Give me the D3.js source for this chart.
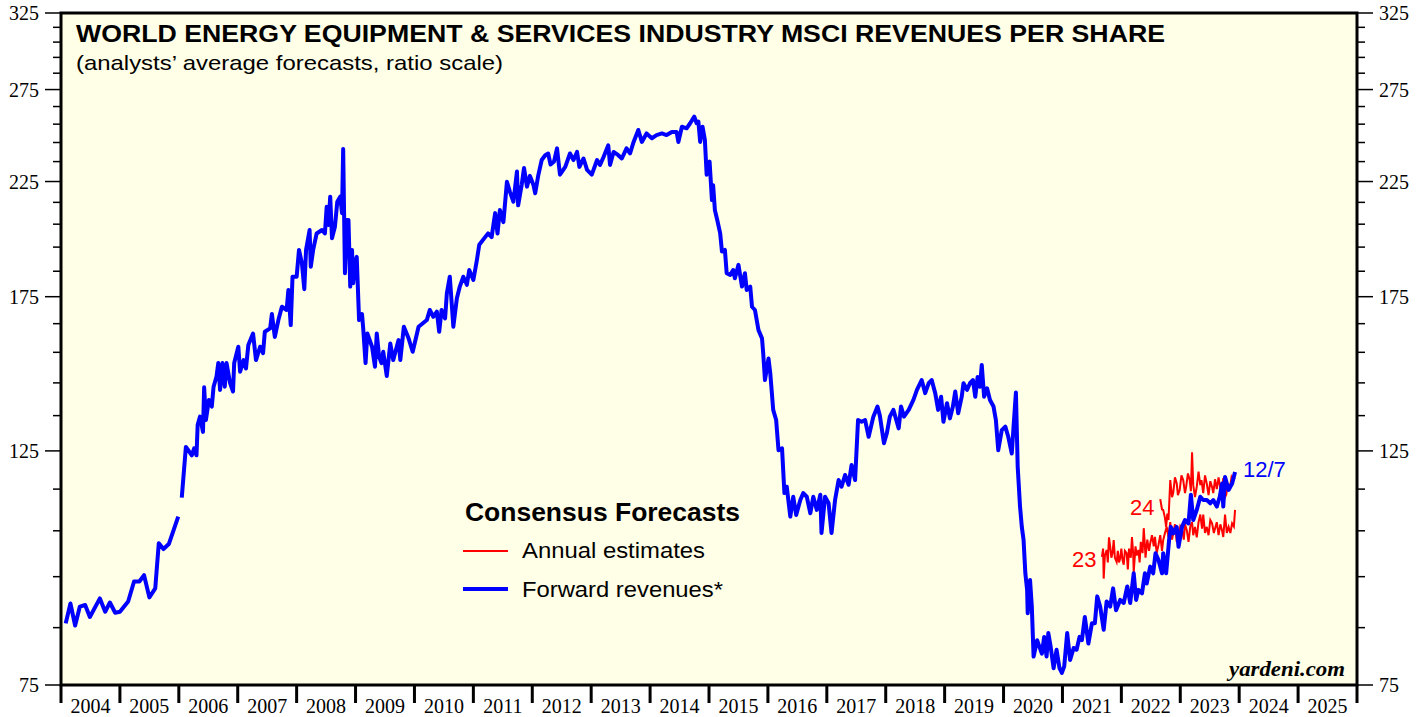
<!DOCTYPE html>
<html>
<head>
<meta charset="utf-8">
<script src="https://cdn.jsdelivr.net/npm/d3@7"></script>
<style>
  body { margin: 0; background: #fff; }
  svg { display: block; }
</style>
</head>
<body>
<div id="chart"></div>
<script>
// decimal year, value
const fwdRevenues = [
  [2004.08,85.8],[2004.16,89.6],[2004.24,85.4],[2004.32,89.0],[2004.41,89.3],[2004.49,87.0],
  [2004.66,90.6],[2004.75,88.0],[2004.83,89.8],[2004.92,87.8],[2005.00,88.0],[2005.14,90.0],
  [2005.24,94.0],[2005.33,94.0],[2005.41,95.3],[2005.50,90.8],[2005.60,92.6],[2005.66,102.2],
  [2005.74,100.9],[2005.83,102.0],[2005.99,108.3],
  null,
  [2006.05,112.9],[2006.12,126.1],[2006.16,125.2],[2006.22,123.8],[2006.26,125.7],[2006.30,123.8],
  [2006.32,132.3],[2006.36,134.7],[2006.41,130.3],[2006.43,143.6],[2006.46,133.7],[2006.51,139.7],
  [2006.56,137.7],[2006.59,143.8],[2006.64,147.0],[2006.67,151.4],[2006.70,142.8],[2006.74,151.4],
  [2006.78,143.8],[2006.81,151.4],[2006.87,144.9],[2006.92,142.3],[2006.94,151.4],[2007.01,156.9],
  [2007.04,148.6],[2007.10,152.4],[2007.14,149.6],[2007.18,157.5],[2007.26,161.5],[2007.31,152.4],
  [2007.38,156.9],[2007.43,154.7],[2007.46,162.1],[2007.55,163.3],[2007.58,168.5],[2007.63,160.3],
  [2007.69,166.3],[2007.75,171.2],[2007.83,170.0],[2007.86,177.6],[2007.90,164.5],[2007.93,182.8],
  [2008.00,182.8],[2008.04,193.8],[2008.09,188.2],[2008.13,177.9],[2008.16,193.8],[2008.22,202.4],
  [2008.24,186.8],[2008.28,193.8],[2008.34,200.9],[2008.43,202.4],[2008.48,200.9],[2008.51,212.9],
  [2008.54,204.6],[2008.57,217.7],[2008.60,198.8],[2008.65,203.9],[2008.69,215.3],[2008.74,217.7],
  [2008.77,210.0],[2008.79,241.5],[2008.82,184.2],[2008.85,206.9],[2008.88,206.9],[2008.91,178.9],
  [2008.94,193.8],[2008.96,180.2],[2008.99,188.2],[2009.02,190.9],[2009.06,166.3],[2009.11,168.5],
  [2009.13,163.3],[2009.17,151.4],[2009.20,161.5],[2009.28,156.9],[2009.33,150.2],[2009.36,161.5],
  [2009.40,153.5],[2009.44,151.4],[2009.47,155.2],[2009.53,147.2],[2009.59,158.0],[2009.64,152.4],
  [2009.73,159.2],[2009.76,152.4],[2009.82,163.9],[2009.90,159.8],[2009.97,155.2],[2010.07,163.9],
  [2010.21,166.3],[2010.26,170.0],[2010.32,167.5],[2010.38,169.4],[2010.42,162.1],[2010.46,170.0],
  [2010.52,166.9],[2010.55,176.3],[2010.60,182.8],[2010.66,163.9],[2010.72,174.4],[2010.77,178.9],
  [2010.83,182.8],[2010.89,179.6],[2010.93,185.5],[2011.00,181.5],[2011.06,189.6],[2011.10,196.0],
  [2011.20,199.3],[2011.25,200.9],[2011.31,199.3],[2011.37,210.0],[2011.41,200.9],[2011.45,211.4],
  [2011.51,205.9],[2011.57,224.9],[2011.62,220.1],[2011.68,215.3],[2011.74,230.0],[2011.76,213.6],
  [2011.82,223.3],[2011.86,231.7],[2011.91,222.5],[2011.96,227.8],[2012.02,223.3],[2012.05,219.3],
  [2012.10,227.8],[2012.16,235.8],[2012.22,238.3],[2012.27,239.2],[2012.31,233.5],[2012.37,235.1],
  [2012.42,241.9],[2012.47,228.4],[2012.56,232.3],[2012.64,239.2],[2012.70,235.8],[2012.76,240.0],
  [2012.80,232.3],[2012.87,236.6],[2012.93,230.8],[2013.01,228.4],[2013.10,235.8],[2013.15,233.3],
  [2013.21,237.4],[2013.29,243.5],[2013.32,233.3],[2013.38,240.0],[2013.46,238.3],[2013.52,236.6],
  [2013.60,241.9],[2013.66,239.2],[2013.72,245.3],[2013.80,251.8],[2013.86,245.3],[2013.94,249.9],
  [2014.03,247.3],[2014.11,249.0],[2014.20,249.9],[2014.28,249.0],[2014.37,250.7],[2014.45,250.7],
  [2014.48,245.3],[2014.54,253.6],[2014.62,252.7],[2014.68,255.5],[2014.75,259.2],[2014.79,255.5],
  [2014.82,256.4],[2014.85,245.3],[2014.89,253.6],[2014.93,246.4],[2014.96,228.4],[2015.01,235.0],
  [2015.05,216.1],[2015.07,223.2],[2015.10,211.4],[2015.14,206.9],[2015.19,200.9],[2015.22,193.1],
  [2015.27,193.8],[2015.30,184.2],[2015.36,183.5],[2015.41,185.5],[2015.44,182.2],[2015.50,187.6],
  [2015.56,178.9],[2015.61,184.2],[2015.64,177.6],[2015.70,178.9],[2015.73,171.2],[2015.78,170.0],
  [2015.84,162.7],[2015.90,159.8],[2015.92,154.7],[2015.95,145.9],[2016.01,152.9],[2016.04,148.1],
  [2016.09,136.7],[2016.14,133.7],[2016.18,125.2],[2016.24,125.7],[2016.28,114.0],[2016.32,115.6],
  [2016.38,108.3],[2016.43,113.1],[2016.48,108.7],[2016.55,112.3],[2016.60,114.0],[2016.66,113.1],
  [2016.72,109.1],[2016.77,113.1],[2016.83,109.9],[2016.89,113.6],[2016.91,104.5],[2016.97,113.1],
  [2017.03,111.5],[2017.08,104.5],[2017.14,112.3],[2017.20,117.3],[2017.25,115.6],[2017.31,118.6],
  [2017.37,116.1],[2017.42,121.2],[2017.48,117.3],[2017.53,133.7],[2017.59,133.2],[2017.65,133.7],
  [2017.71,128.9],[2017.79,134.7],[2017.86,137.7],[2017.90,135.0],[2017.97,127.1],[2018.02,130.0],
  [2018.07,134.7],[2018.13,136.7],[2018.22,131.3],[2018.26,137.7],[2018.31,134.7],[2018.39,136.7],
  [2018.47,139.7],[2018.53,142.8],[2018.61,145.9],[2018.67,141.8],[2018.73,144.9],[2018.78,145.9],
  [2018.84,141.8],[2018.89,136.7],[2018.94,140.7],[2018.98,133.2],[2019.04,138.7],[2019.09,134.2],
  [2019.14,137.7],[2019.18,142.3],[2019.23,135.7],[2019.29,140.7],[2019.32,144.9],[2019.38,142.8],
  [2019.43,144.9],[2019.48,145.9],[2019.52,140.7],[2019.56,146.9],[2019.60,143.8],[2019.63,150.8],
  [2019.67,140.7],[2019.72,143.3],[2019.77,139.7],[2019.83,137.7],[2019.87,133.7],[2019.91,125.2],
  [2019.97,130.8],[2020.03,131.8],[2020.08,128.9],[2020.14,124.3],[2020.17,131.8],[2020.21,142.0],
  [2020.24,120.8],[2020.28,110.7],[2020.31,105.9],[2020.34,102.9],[2020.37,95.7],[2020.40,92.3],
  [2020.41,87.7],[2020.45,94.3],[2020.48,89.0],[2020.51,79.8],[2020.57,82.7],[2020.61,81.5],
  [2020.65,80.3],[2020.69,83.3],[2020.73,79.8],[2020.76,84.0],[2020.80,81.5],[2020.85,77.8],
  [2020.90,81.0],[2020.95,77.8],[2020.99,77.0],[2021.03,78.1],[2021.08,84.0],[2021.13,79.2],
  [2021.19,81.3],[2021.24,81.0],[2021.29,83.3],[2021.33,82.7],[2021.38,87.0],[2021.44,82.1],
  [2021.50,85.8],[2021.55,85.8],[2021.59,91.0],[2021.64,89.0],[2021.70,84.6],[2021.75,90.0],
  [2021.81,89.0],[2021.86,92.6],[2021.91,88.3],[2021.98,90.3],[2022.04,89.7],[2022.10,93.0],
  [2022.15,89.7],[2022.21,95.7],[2022.25,90.3],[2022.29,92.3],[2022.35,91.6],[2022.40,95.7],
  [2022.43,93.6],[2022.49,97.1],[2022.54,95.7],[2022.58,100.0],[2022.63,98.5],[2022.69,95.7],
  [2022.71,100.0],[2022.76,95.7],[2022.81,102.9],[2022.84,105.9],[2022.88,104.4],[2022.94,105.9],
  [2022.97,101.4],[2023.03,105.9],[2023.08,107.5],[2023.14,106.7],[2023.18,113.6],[2023.22,107.5],
  [2023.28,109.9],[2023.34,113.1],[2023.39,112.3],[2023.45,112.3],[2023.51,111.5],[2023.56,112.3],
  [2023.62,110.7],[2023.67,113.1],[2023.71,116.4],[2023.73,110.7],[2023.76,118.1],[2023.82,114.8],
  [2023.88,116.4],[2023.93,119.4]
];

const est2023 = [
  [2021.67,99.2],[2021.69,101.0],[2021.70,94.6],[2021.72,99.5],[2021.75,100.7],[2021.77,98.0],
  [2021.79,103.5],[2021.81,101.5],[2021.83,99.0],[2021.85,100.0],[2021.87,102.9],[2021.89,99.0],
  [2021.92,98.1],[2021.94,100.5],[2021.96,98.0],[2021.98,98.9],[2022.00,101.0],[2022.02,98.5],
  [2022.04,97.5],[2022.06,100.5],[2022.09,100.0],[2022.11,96.5],[2022.13,101.0],[2022.16,99.0],
  [2022.18,103.6],[2022.20,100.0],[2022.21,96.0],[2022.24,101.5],[2022.26,99.5],[2022.29,100.7],
  [2022.31,98.0],[2022.33,102.5],[2022.36,100.0],[2022.38,105.6],[2022.40,101.5],[2022.41,99.0],
  [2022.44,103.0],[2022.47,100.5],[2022.49,102.2],[2022.52,104.0],[2022.55,101.5],[2022.57,103.6],
  [2022.60,100.0],[2022.63,101.8],[2022.66,104.0],[2022.69,100.5],[2022.71,102.9],[2022.74,104.5],
  [2022.77,105.9],[2022.80,103.5],[2022.83,107.0],[2022.86,103.0],[2022.88,104.4],[2022.91,106.5],
  [2022.94,102.5],[2022.97,103.6],[2023.00,106.0],[2023.03,105.2],[2023.06,103.0],[2023.08,106.5],
  [2023.11,105.2],[2023.14,102.5],[2023.17,106.0],[2023.20,107.0],[2023.22,104.0],[2023.25,105.9],
  [2023.28,103.5],[2023.31,107.0],[2023.34,108.8],[2023.37,105.5],[2023.39,108.8],[2023.42,104.5],
  [2023.45,105.9],[2023.48,104.0],[2023.51,107.5],[2023.54,106.7],[2023.57,104.5],[2023.60,106.0],
  [2023.62,107.0],[2023.65,104.0],[2023.68,106.5],[2023.71,105.0],[2023.73,103.6],[2023.76,108.8],
  [2023.79,104.5],[2023.82,105.9],[2023.85,104.5],[2023.88,106.7],[2023.91,106.0],[2023.93,109.9]
];

const est2024 = [
  [2022.66,112.5],[2022.69,110.0],[2022.71,109.9],[2022.74,108.0],[2022.76,105.9],[2022.78,109.0],
  [2022.80,107.5],[2022.83,117.3],[2022.86,113.0],[2022.88,114.0],[2022.91,118.0],[2022.94,116.4],
  [2022.96,113.5],[2022.99,114.8],[2023.02,118.5],[2023.05,117.3],[2023.08,114.0],[2023.10,115.6],
  [2023.13,119.0],[2023.16,117.3],[2023.18,114.5],[2023.20,124.6],[2023.22,116.0],[2023.25,113.0],
  [2023.28,115.6],[2023.31,119.5],[2023.34,116.0],[2023.36,117.3],[2023.39,114.0],[2023.42,118.5],
  [2023.45,116.4],[2023.48,113.5],[2023.51,117.0],[2023.54,115.5],[2023.56,114.0],[2023.59,117.5],
  [2023.62,115.0],[2023.65,118.0],[2023.67,116.1],[2023.70,114.0],[2023.73,117.8],[2023.76,113.0],
  [2023.78,113.6],[2023.81,116.5],[2023.84,115.0],[2023.87,118.0],[2023.89,117.3],[2023.93,117.8]
];

const years = d3.range(2004, 2026);
const yTicks = d3.range(75, 326, 10);
const yLabels = [75, 125, 175, 225, 275, 325];

const width = 1427, height = 717;
const plot = {left: 61, right: 1357, top: 13, bottom: 685};

const svg = d3.select("#chart").append("svg")
  .attr("width", width).attr("height", height)
  .style("background", "#fff");

const x = d3.scaleLinear().domain([2004, 2026]).range([plot.left, plot.right]);
const y = d3.scaleLog().domain([75, 325]).range([plot.bottom, plot.top]);

// plot background
svg.append("rect")
  .attr("x", plot.left).attr("y", plot.top)
  .attr("width", plot.right - plot.left).attr("height", plot.bottom - plot.top)
  .attr("fill", "#fffee6");

const serif = "'Liberation Serif', 'Times New Roman', serif";
const sans = "'Liberation Sans', Arial, sans-serif";

// y ticks on both sides, long ones where labelled
yTicks.forEach(v => {
  const len = yLabels.includes(v) ? 16 : 8;
  svg.append("line").attr("x1", plot.left - len).attr("x2", plot.left)
    .attr("y1", y(v)).attr("y2", y(v)).attr("stroke", "#000").attr("stroke-width", 1.5);
  svg.append("line").attr("x1", plot.right).attr("x2", plot.right + len)
    .attr("y1", y(v)).attr("y2", y(v)).attr("stroke", "#000").attr("stroke-width", 1.5);
});

yLabels.forEach(v => {
  svg.append("text").attr("x", 39).attr("y", y(v)).attr("dy", "0.35em")
    .attr("text-anchor", "end").style("font", `20px ${serif}`).text(v);
  svg.append("text").attr("x", 1379).attr("y", y(v)).attr("dy", "0.35em")
    .attr("text-anchor", "start").style("font", `20px ${serif}`).text(v);
});

// x axis: ticks at year boundaries, labels centred in each year
d3.range(2004, 2027).forEach(yr => {
  svg.append("line").attr("x1", x(yr)).attr("x2", x(yr))
    .attr("y1", plot.bottom).attr("y2", 703)
    .attr("stroke", "#000").attr("stroke-width", 3);
});
svg.selectAll(".year").data(years).enter().append("text")
  .attr("class", "year")
  .attr("x", d => x(d + 0.5)).attr("y", 713)
  .attr("text-anchor", "middle")
  .style("font", `20px ${serif}`)
  .text(d => d);

// lines
const line = d3.line()
  .defined(d => d !== null)
  .x(d => x(d[0]))
  .y(d => y(d[1]));

svg.append("path").datum(est2023)
  .attr("d", line).attr("fill", "none").attr("stroke", "#ff0000").attr("stroke-width", 2);
svg.append("path").datum(est2024)
  .attr("d", line).attr("fill", "none").attr("stroke", "#ff0000").attr("stroke-width", 2);
svg.append("path").datum(fwdRevenues)
  .attr("d", line).attr("fill", "none").attr("stroke", "#0000ff")
  .attr("stroke-width", 4).attr("stroke-linejoin", "round");

// frame
svg.append("rect")
  .attr("x", plot.left).attr("y", plot.top)
  .attr("width", plot.right - plot.left).attr("height", plot.bottom - plot.top)
  .attr("fill", "none").attr("stroke", "#000").attr("stroke-width", 3);

// titles
svg.append("text").attr("x", 76).attr("y", 42)
  .attr("textLength", 1089).attr("lengthAdjust", "spacingAndGlyphs")
  .style("font", `bold 23px ${sans}`)
  .text("WORLD ENERGY EQUIPMENT & SERVICES INDUSTRY MSCI REVENUES PER SHARE");
svg.append("text").attr("x", 76).attr("y", 70)
  .attr("textLength", 427).attr("lengthAdjust", "spacingAndGlyphs")
  .style("font", `21px ${sans}`)
  .text("(analysts’ average forecasts, ratio scale)");

// legend
svg.append("text").attr("x", 465).attr("y", 521)
  .attr("textLength", 275).attr("lengthAdjust", "spacingAndGlyphs")
  .style("font", `bold 25px ${sans}`).text("Consensus Forecasts");
svg.append("line").attr("x1", 463).attr("x2", 508).attr("y1", 551).attr("y2", 551)
  .attr("stroke", "#ff0000").attr("stroke-width", 2);
svg.append("text").attr("x", 522).attr("y", 558)
  .attr("textLength", 183).attr("lengthAdjust", "spacingAndGlyphs")
  .style("font", `22px ${sans}`).text("Annual estimates");
svg.append("line").attr("x1", 463).attr("x2", 508).attr("y1", 589).attr("y2", 589)
  .attr("stroke", "#0000ff").attr("stroke-width", 4);
svg.append("text").attr("x", 522).attr("y", 597)
  .attr("textLength", 201).attr("lengthAdjust", "spacingAndGlyphs")
  .style("font", `22px ${sans}`).text("Forward revenues*");

// annotations at line ends
svg.append("text").attr("x", 1243).attr("y", 477).attr("fill", "#0000ff")
  .style("font", `22px ${sans}`).text("12/7");
svg.append("text").attr("x", 1130).attr("y", 515).attr("fill", "#ff0000")
  .style("font", `22px ${sans}`).text("24");
svg.append("text").attr("x", 1072).attr("y", 567).attr("fill", "#ff0000")
  .style("font", `22px ${sans}`).text("23");

svg.append("text").attr("x", 1345).attr("y", 676).attr("text-anchor", "end")
  .attr("textLength", 116).attr("lengthAdjust", "spacingAndGlyphs")
  .style("font", `italic bold 22px ${serif}`).text("yardeni.com");
</script>
</body>
</html>
